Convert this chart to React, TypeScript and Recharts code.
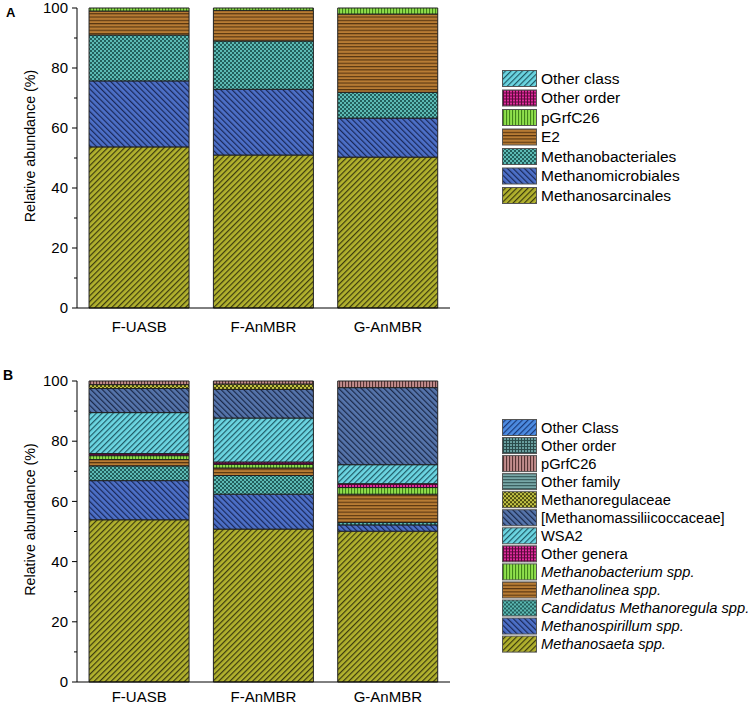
import React from 'react';
import { BarChart, Bar, XAxis, YAxis } from 'recharts';

// ---------- data ----------
const categories = ['F-UASB', 'F-AnMBR', 'G-AnMBR'];

// Panel A (order level), bottom -> top
const aMethanosarcinales = [53.7, 51.0, 50.3];
const aMethanomicrobiales = [22.0, 21.9, 13.0];
const aMethanobacteriales = [15.3, 16.1, 8.6];
const aE2 = [8.0, 10.2, 26.1];
const aPGrfC26 = [1.0, 0.8, 2.0];
const aOtherOrder = [0, 0, 0];
const aOtherClass = [0, 0, 0];

// Panel B (genus level), bottom -> top
const bMethanosaeta = [53.9, 50.8, 50.1];
const bMethanospirillum = [13.0, 11.6, 2.1];
const bCandidatus = [4.9, 6.2, 0.8];
const bMethanolinea = [2.1, 2.5, 9.4];
const bMethanobacterium = [1.3, 1.2, 2.2];
const bOtherGenera = [0.7, 0.8, 1.3];
const bWSA2 = [13.6, 14.6, 6.3];
const bMethanomassilii = [8.0, 9.5, 25.6];
const bMethanoregulaceae = [1.3, 1.8, 0];
const bOtherFamily = [0, 0, 0];
const bPGrfC26 = [1.2, 1.0, 2.2];
const bOtherOrder = [0, 0, 0];
const bOtherClass = [0, 0, 0];

const yTicks = [0, 10, 20, 30, 40, 50, 60, 70, 80, 90, 100];

// ---------- series config ----------
type S = { key: string; label: string; values: number[]; fill: string; italic?: boolean };

const seriesA: S[] = [
  { key: 'Methanosarcinales', label: 'Methanosarcinales', values: aMethanosarcinales, fill: 'url(#p-olive)' },
  { key: 'Methanomicrobiales', label: 'Methanomicrobiales', values: aMethanomicrobiales, fill: 'url(#p-blue)' },
  { key: 'Methanobacteriales', label: 'Methanobacteriales', values: aMethanobacteriales, fill: 'url(#p-teal)' },
  { key: 'E2', label: 'E2', values: aE2, fill: 'url(#p-brown)' },
  { key: 'pGrfC26', label: 'pGrfC26', values: aPGrfC26, fill: 'url(#p-green)' },
  { key: 'OtherOrder', label: 'Other order', values: aOtherOrder, fill: 'url(#p-magenta)' },
  { key: 'OtherClass', label: 'Other class', values: aOtherClass, fill: 'url(#p-cyan)' },
];

const seriesB: S[] = [
  { key: 'Methanosaeta', label: 'Methanosaeta spp.', values: bMethanosaeta, fill: 'url(#p-olive)', italic: true },
  { key: 'Methanospirillum', label: 'Methanospirillum spp.', values: bMethanospirillum, fill: 'url(#p-blue)', italic: true },
  { key: 'Candidatus', label: 'Candidatus Methanoregula spp.', values: bCandidatus, fill: 'url(#p-teal)', italic: true },
  { key: 'Methanolinea', label: 'Methanolinea spp.', values: bMethanolinea, fill: 'url(#p-brown)', italic: true },
  { key: 'Methanobacterium', label: 'Methanobacterium spp.', values: bMethanobacterium, fill: 'url(#p-green)', italic: true },
  { key: 'OtherGenera', label: 'Other genera', values: bOtherGenera, fill: 'url(#p-magenta)' },
  { key: 'WSA2', label: 'WSA2', values: bWSA2, fill: 'url(#p-cyan)' },
  { key: 'Methanomassilii', label: '[Methanomassiliicoccaceae]', values: bMethanomassilii, fill: 'url(#p-slate)' },
  { key: 'Methanoregulaceae', label: 'Methanoregulaceae', values: bMethanoregulaceae, fill: 'url(#p-olivecheck)' },
  { key: 'OtherFamily', label: 'Other family', values: bOtherFamily, fill: 'url(#p-greyh)' },
  { key: 'pGrfC26', label: 'pGrfC26', values: bPGrfC26, fill: 'url(#p-mauve)' },
  { key: 'OtherOrder', label: 'Other order', values: bOtherOrder, fill: 'url(#p-greygrid)' },
  { key: 'OtherClass', label: 'Other Class', values: bOtherClass, fill: 'url(#p-skyblue)' },
];

const buildData = (series: S[]) =>
  categories.map((c, i) => {
    const row: Record<string, string | number> = { cat: c };
    series.forEach((s) => (row[s.key] = s.values[i]));
    return row;
  });

const dataA = buildData(seriesA);
const dataB = buildData(seriesB);

const FONT = "Arial, 'Liberation Sans', sans-serif";

// ---------- patterns ----------
const Hatch = ({ id, base, line, angle, s = 4, w = 1.2 }: any) => (
  <pattern id={id} patternUnits="userSpaceOnUse" width={s} height={s} patternTransform={`rotate(${angle})`}>
    <rect width={s} height={s} fill={base} />
    <line x1={0.6} y1={0} x2={0.6} y2={s} stroke={line} strokeWidth={w} />
  </pattern>
);
const Checker = ({ id, base, dark, c = 2 }: any) => (
  <pattern id={id} patternUnits="userSpaceOnUse" width={2 * c} height={2 * c}>
    <rect width={2 * c} height={2 * c} fill={base} />
    <rect x={0} y={0} width={c} height={c} fill={dark} />
    <rect x={c} y={c} width={c} height={c} fill={dark} />
  </pattern>
);
const Grid = ({ id, base, line, s = 3 }: any) => (
  <pattern id={id} patternUnits="userSpaceOnUse" width={s} height={s}>
    <rect width={s} height={s} fill={base} />
    <line x1={0.5} y1={0} x2={0.5} y2={s} stroke={line} strokeWidth={1} />
    <line x1={0} y1={0.5} x2={s} y2={0.5} stroke={line} strokeWidth={1} />
  </pattern>
);

const Patterns = () => (
  <svg width={0} height={0} style={{ position: 'absolute' }}>
    <defs>
      <Hatch id="p-olive" base="#b2b22e" line="#3c3c0e" angle={45} s={4} />
      <Hatch id="p-blue" base="#4d70c8" line="#1a2858" angle={-45} s={4} />
      <Checker id="p-teal" base="#5cbab4" dark="#235f5c" c={2} />
      <Hatch id="p-brown" base="#b87c34" line="#4a2c0c" angle={90} s={3.3} w={1} />
      <Hatch id="p-green" base="#8fe04c" line="#3a7a16" angle={0} s={3} w={1} />
      <Grid id="p-magenta" base="#e02a9c" line="#5a0a3a" s={3} />
      <Hatch id="p-cyan" base="#6cd6e2" line="#1f5a66" angle={45} s={4} />
      <Hatch id="p-slate" base="#5675ac" line="#1a2848" angle={-45} s={4} />
      <Checker id="p-olivecheck" base="#c4c444" dark="#4a4a10" c={2} />
      <Hatch id="p-greyh" base="#78a8a8" line="#2a4a4a" angle={90} s={3} w={1} />
      <Hatch id="p-mauve" base="#c28c8c" line="#4a2a2a" angle={0} s={3} w={1} />
      <Grid id="p-greygrid" base="#6aa0a0" line="#2a4a4a" s={3} />
      <Hatch id="p-skyblue" base="#4d8ce2" line="#1a3a7a" angle={45} s={4} />
    </defs>
  </svg>
);

// ---------- axis pieces ----------
const YTick = (props: any) => {
  const { x, y, payload } = props;
  const v = payload.value;
  const major = v % 20 === 0;
  return (
    <g>
      <line x1={x - (major ? 5 : 3)} x2={x} y1={y} y2={y} stroke="#000" strokeWidth={1} />
      {major && (
        <text x={x - 9} y={y} dy="0.35em" textAnchor="end" fontSize={15} fontFamily={FONT} fill="#000">
          {v}
        </text>
      )}
    </g>
  );
};

const YLabel = (props: any) => {
  const vb = props.viewBox || { x: 0, y: 0, width: 77, height: 300 };
  const cx = vb.x + 30;
  const cy = vb.y + vb.height / 2 - 12;
  return (
    <text
      x={cx}
      y={cy}
      transform={`rotate(-90 ${cx} ${cy})`}
      textAnchor="middle"
      dominantBaseline="central"
      fontSize={14.3}
      fontFamily={FONT}
      fill="#000"
    >
      Relative abundance (%)
    </text>
  );
};

const Panel = ({ data, series, height, xHeight, tickMargin, bottom }: any) => (
  <BarChart
    width={750}
    height={height}
    data={data}
    margin={{ top: 8, right: 300, left: 0, bottom }}
    barCategoryGap="9.7%"
  >
    <XAxis
      dataKey="cat"
      height={xHeight}
      tickLine={false}
      axisLine={{ stroke: '#000', strokeWidth: 1 }}
      tickMargin={tickMargin}
      tick={{ fontSize: 15, fill: '#000', fontFamily: FONT }}
      interval={0}
    />
    <YAxis
      width={77}
      domain={[0, 100]}
      ticks={yTicks}
      interval={0}
      tickSize={0}
      tickMargin={0}
      tickLine={false}
      axisLine={{ stroke: '#000', strokeWidth: 1 }}
      tick={<YTick />}
      label={{ content: <YLabel /> }}
    />
    {series.map((s: S) => (
      <Bar
        key={s.key}
        dataKey={s.key}
        stackId="a"
        fill={s.fill}
        stroke="#222"
        strokeWidth={1}
        isAnimationActive={false}
        legendType="none"
      />
    ))}
  </BarChart>
);

const LegendBox = ({ series, top, step, fontSize }: any) => {
  const items = [...series].reverse();
  return (
    <svg
      width={250}
      height={items.length * step + 4}
      style={{ position: 'absolute', left: 500, top }}
    >
      {items.map((s: S, i: number) => (
        <g key={s.key} transform={`translate(0, ${i * step})`}>
          <rect x={2.5} y={0.5} width={34} height={16} fill={s.fill} stroke="#555" strokeWidth={1} />
          <text
            x={41}
            y={8.5}
            dy="0.35em"
            fontSize={fontSize}
            fontFamily={FONT}
            fontStyle={s.italic ? 'italic' : 'normal'}
            fill="#000"
          >
            {s.label}
          </text>
        </g>
      ))}
    </svg>
  );
};

export default function App() {
  return (
    <div
      style={{
        position: 'absolute',
        left: 0,
        top: 0,
        width: 750,
        height: 705,
        overflow: 'hidden',
        background: '#fff',
        fontFamily: FONT,
      }}
    >
      <Patterns />
      <div style={{ position: 'absolute', left: 0, top: 0 }}>
        <Panel data={dataA} series={seriesA} height={340} xHeight={30} tickMargin={7} bottom={2} />
      </div>
      <div style={{ position: 'absolute', left: 0, top: 373 }}>
        <Panel data={dataB} series={seriesB} height={331} xHeight={22} tickMargin={3} bottom={0} />
      </div>
      <LegendBox series={seriesA} top={70} step={19.5} fontSize={15.5} />
      <LegendBox series={seriesB} top={419} step={18.05} fontSize={14.7} />
      <svg width={30} height={705} style={{ position: 'absolute', left: 0, top: 0 }}>
        <text x={6} y={17} fontSize={13} fontWeight="bold" fontFamily={FONT} fill="#000">A</text>
        <text x={3} y={380} fontSize={14} fontWeight="bold" fontFamily={FONT} fill="#000">B</text>
      </svg>
    </div>
  );
}
